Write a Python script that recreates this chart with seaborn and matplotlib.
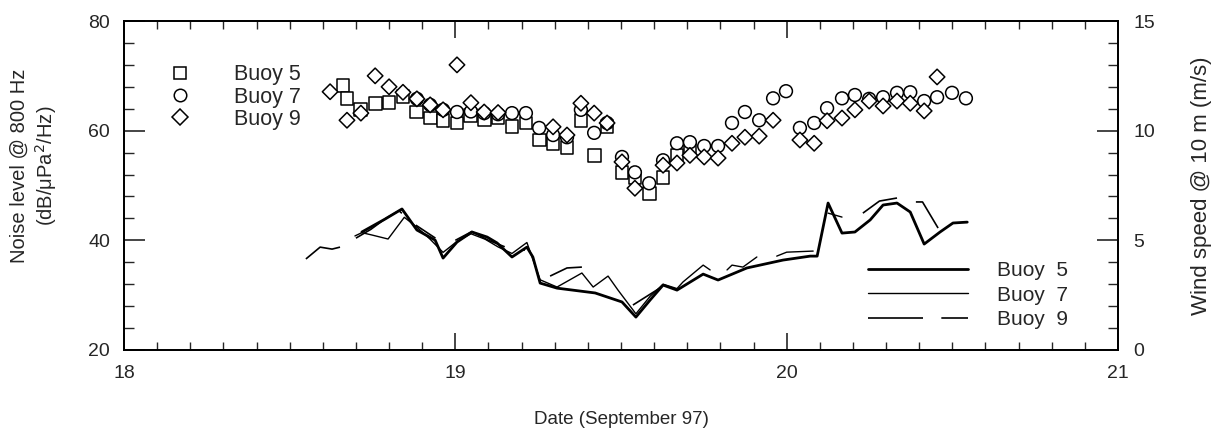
import numpy as np
import pandas as pd
import matplotlib
matplotlib.use("Agg")
import matplotlib.pyplot as plt
from matplotlib.lines import Line2D
from matplotlib.ticker import MultipleLocator
import seaborn as sns

sns.set_style("ticks")
plt.rcParams['font.family'] = ['Liberation Sans', 'DejaVu Sans']

# Noise level @ 800 Hz (dB)
t5 = [18.661, 18.673, 18.715, 18.758, 18.800, 18.842, 18.884, 18.924, 18.963, 19.005,
      19.047, 19.087, 19.129, 19.171, 19.213, 19.253, 19.295, 19.337, 19.379, 19.419,
      19.458, 19.503, 19.542, 19.585, 19.627, 19.669, 19.708]
n5 = [68.3, 65.9, 63.9, 65.0, 65.2, 66.3, 63.4, 62.3, 61.9, 61.4,
      62.7, 62.1, 62.3, 60.8, 61.4, 58.3, 57.7, 57.0, 61.9, 55.5,
      60.7, 52.3, 51.4, 48.6, 51.5, 55.5, 56.8]

t7 = [18.884, 18.924, 18.963, 19.005, 19.047, 19.087, 19.129, 19.171, 19.213, 19.253,
      19.295, 19.337, 19.379, 19.419, 19.458, 19.503, 19.542, 19.585, 19.627, 19.669,
      19.708, 19.751, 19.793, 19.835, 19.874, 19.917, 19.959, 19.998, 20.040, 20.083,
      20.122, 20.167, 20.206, 20.249, 20.291, 20.333, 20.373, 20.415, 20.454, 20.499,
      20.541]
n7 = [65.8, 64.7, 63.8, 63.4, 63.5, 63.2, 63.0, 63.2, 63.2, 60.5,
      59.2, 58.8, 63.8, 59.6, 61.4, 55.2, 52.4, 50.4, 54.6, 57.7,
      57.9, 57.2, 57.2, 61.4, 63.4, 61.9, 65.9, 67.2, 60.5, 61.4,
      64.1, 65.9, 66.5, 65.8, 66.1, 66.9, 67.0, 65.4, 66.1, 66.9,
      65.9]

t9 = [18.622, 18.673, 18.715, 18.758, 18.800, 18.842, 18.884, 18.924, 18.963, 19.005,
      19.047, 19.087, 19.129, 19.295, 19.337, 19.379, 19.419, 19.458, 19.503, 19.542,
      19.627, 19.669, 19.708, 19.751, 19.793, 19.835, 19.874, 19.917, 19.959, 20.040,
      20.083, 20.122, 20.167, 20.206, 20.249, 20.291, 20.333, 20.373, 20.415, 20.454]
n9 = [67.1, 61.9, 63.2, 70.0, 68.0, 67.0, 65.8, 64.7, 63.8, 72.0,
      65.1, 63.4, 63.3, 60.7, 59.2, 65.0, 63.2, 61.4, 54.3, 49.5,
      53.7, 54.1, 55.5, 55.2, 55.0, 57.7, 58.8, 59.0, 61.9, 58.3,
      57.7, 61.8, 62.3, 63.8, 65.4, 64.5, 65.4, 65.0, 63.6, 69.8]

# Wind speed @ 10 m (m/s); segment ids mark gaps in each record
w5_t = [18.718, 18.788, 18.839, 18.884, 18.939, 18.963, 19.005, 19.050, 19.096, 19.126,
        19.171, 19.216, 19.234, 19.256, 19.307, 19.422, 19.503, 19.545, 19.588, 19.627,
        19.669, 19.748, 19.793, 19.880, 19.989, 20.071, 20.092, 20.125, 20.167, 20.206,
        20.252, 20.291, 20.333, 20.373, 20.415, 20.463, 20.502, 20.545]
w5_v = [5.38, 5.97, 6.43, 5.47, 5.01, 4.19, 4.92, 5.38, 5.15, 4.88,
        4.24, 4.69, 4.24, 3.05, 2.82, 2.60, 2.19, 1.50, 2.28, 2.96,
        2.73, 3.46, 3.19, 3.74, 4.10, 4.28, 4.28, 6.70, 5.33, 5.38,
        5.93, 6.61, 6.70, 6.29, 4.83, 5.38, 5.79, 5.83]
w5_s = [0] * len(w5_t)

w7_t = [18.697, 18.718, 18.749, 18.797, 18.846, 18.884, 18.924, 18.963, 19.005, 19.047,
        19.090, 19.129, 19.171, 19.216, 19.256, 19.307, 19.382, 19.416, 19.461, 19.491,
        19.545, 19.588, 19.627, 19.669, 19.687, 19.748, 19.769,
        19.820, 19.835, 19.868, 19.910,
        19.970, 20.000, 20.080,
        20.125, 20.167]
w7_v = [5.20, 5.35, 5.24, 5.06, 6.05, 5.60, 5.05, 4.45, 4.95, 5.30,
        5.05, 4.70, 4.40, 4.90, 3.20, 2.87, 3.51, 2.87, 3.37, 2.73,
        1.65, 2.45, 3.00, 2.80, 3.10, 3.87, 3.65,
        3.65, 3.87, 3.78, 4.24,
        4.28, 4.46, 4.51,
        6.24, 6.06]
w7_s = [0] * 27 + [1] * 4 + [2] * 3 + [3] * 2

w9_t = [18.549, 18.592, 18.628, 18.652,
        18.700, 18.745, 18.790, 18.830, 18.870, 18.940,
        19.000, 19.050, 19.100, 19.150, 19.210,
        19.286, 19.337, 19.382,
        19.536, 19.618,
        20.230, 20.280, 20.333,
        20.390, 20.410, 20.457]
w9_v = [4.15, 4.69, 4.60, 4.69,
        5.10, 5.50, 6.00, 6.35, 5.80, 5.10,
        5.00, 5.40, 5.00, 4.70, 4.55,
        3.37, 3.74, 3.78,
        2.05, 2.83,
        6.24, 6.79, 6.93,
        6.75, 6.75, 5.56]
w9_s = [0] * 4 + [1] * 6 + [2] * 5 + [3] * 3 + [4] * 2 + [5] * 3 + [6] * 3

labels = ['Buoy 5', 'Buoy 7', 'Buoy 9']

noise = pd.concat([
    pd.DataFrame({'Date': t5, 'Noise': n5, 'Buoy': labels[0]}),
    pd.DataFrame({'Date': t7, 'Noise': n7, 'Buoy': labels[1]}),
    pd.DataFrame({'Date': t9, 'Noise': n9, 'Buoy': labels[2]}),
], ignore_index=True)

wind = {
    labels[0]: pd.DataFrame({'Date': w5_t, 'Wind': w5_v, 'seg': w5_s}),
    labels[1]: pd.DataFrame({'Date': w7_t, 'Wind': w7_v, 'seg': w7_s}),
    labels[2]: pd.DataFrame({'Date': w9_t, 'Wind': w9_v, 'seg': w9_s}),
}
line_kw = {
    labels[0]: dict(linewidth=2.0, linestyle='-'),
    labels[1]: dict(linewidth=1.0, linestyle='-'),
    labels[2]: dict(linewidth=1.2, linestyle=(0, (33, 11))),
}
markers = {labels[0]: 's', labels[1]: 'o', labels[2]: 'D'}
sizes = {labels[0]: 85, labels[1]: 85, labels[2]: 62}

fig = plt.figure(figsize=(12.24, 4.33), dpi=100)
ax = fig.add_axes([0.1013, 0.1917, 0.8121, 0.7598])

sns.scatterplot(data=noise, x='Date', y='Noise', style='Buoy', markers=markers,
                size='Buoy', sizes=sizes, facecolor='white', edgecolor='black',
                linewidth=1.1, legend=False, ax=ax, zorder=3)

ax2 = ax.twinx()
for b in labels:
    sns.lineplot(data=wind[b], x='Date', y='Wind', units='seg', estimator=None,
                 color='black', ax=ax2, legend=False, **line_kw[b])

ax.set_xlim(18, 21)
ax.set_ylim(20, 80)
ax2.set_ylim(0, 15)
ax.xaxis.set_major_locator(MultipleLocator(1))
ax.xaxis.set_minor_locator(MultipleLocator(0.1))
ax.yaxis.set_major_locator(MultipleLocator(20))
ax.yaxis.set_minor_locator(MultipleLocator(4))
ax2.yaxis.set_major_locator(MultipleLocator(5))
ax2.yaxis.set_minor_locator(MultipleLocator(1))

ax.tick_params(axis='x', which='major', direction='in', length=12, width=1.2,
               top=True, labelsize=14, pad=11)
ax.tick_params(axis='x', which='minor', direction='in', length=6, width=1.0, top=True)
ax.tick_params(axis='y', which='major', direction='in', length=15, width=1.2,
               labelsize=14, pad=10)
ax.tick_params(axis='y', which='minor', direction='in', length=7.5, width=1.0)
ax2.tick_params(axis='y', which='major', direction='in', length=15, width=1.2,
                labelsize=14, pad=11)
ax2.tick_params(axis='y', which='minor', direction='in', length=7.5, width=1.0)
for a in (ax, ax2):
    for s in a.spines.values():
        s.set_visible(True)
        s.set_linewidth(1.3)
        s.set_color('black')

ax.set_xlabel('Date (September 97)', fontsize=13.5, labelpad=21)
ax.set_ylabel('Noise level @ 800 Hz\n(dB/\u03bcPa$^2$/Hz)', fontsize=14.5, labelpad=21)
ax.yaxis.label.set_y(0.56)
ax2.set_ylabel('Wind speed @ 10 m (m/s)', fontsize=16, labelpad=26)

mk_handles = [Line2D([], [], marker=markers[b], linestyle='none', markersize=9 if b != 'Buoy 9' else 8,
                     markerfacecolor='white', markeredgecolor='black', markeredgewidth=1.1)
              for b in labels]
ax.legend(mk_handles, labels, loc='upper left', bbox_to_anchor=(0.046, 0.868),
          frameon=False, fontsize=15.5, handlelength=1.0, handletextpad=2.0,
          labelspacing=0.05, borderpad=0, borderaxespad=0)

ln_handles = [Line2D([], [], color='black', **line_kw[b]) for b in labels]
ln_labels = ['Buoy  5', 'Buoy  7', 'Buoy  9']
ax2.legend(ln_handles, ln_labels, loc='upper left', bbox_to_anchor=(0.7485, 0.27),
           frameon=False, fontsize=15, handlelength=4.8, handletextpad=1.4,
           labelspacing=0.26, borderpad=0, borderaxespad=0)

fig.savefig('out.png', dpi=100)
